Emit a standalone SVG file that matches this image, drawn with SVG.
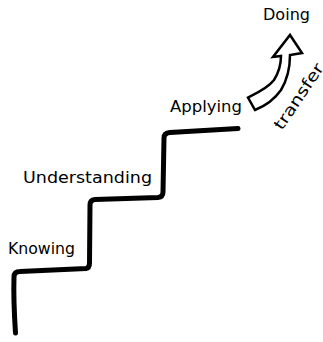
<svg xmlns="http://www.w3.org/2000/svg" width="323" height="342" viewBox="0 0 323 342">
<style>
.lbl{font-family:"DejaVu Sans","Liberation Sans",sans-serif;font-size:16px;fill:#000}
.stair{fill:none;stroke:#000;stroke-width:5;stroke-linecap:round;stroke-linejoin:round}
.arrow{fill:#fff;stroke:#000;stroke-width:2.5;stroke-linejoin:miter}
</style>
<rect width="323" height="342" fill="#fff"/>
<g id="connectors">
<path class="stair" d="M15.5,333 C14,310 13.5,292 14,277 Q14,271.5 20,271.5 L86,268.5 Q89.5,268 89.5,263 L90,205 Q90,200 95,199.5 L158,197.5 Q163,197 163,192 L164,138 Q164,133 170,132.5 L238,128.5"/>
<path class="arrow" d="M248,97.5 C257,93 268,88 274,80 C279,72 281,64 281,56 L273,57 L290,35 L302,53 L290,55 C290,68 287,80 281,90 C274,100 265,106 255,110 Z"/>
</g>
<g id="knowing"><text class="lbl" x="8" y="254" textLength="67" lengthAdjust="spacingAndGlyphs">Knowing</text></g>
<g id="understanding"><text class="lbl" x="23" y="183" textLength="129" lengthAdjust="spacingAndGlyphs">Understanding</text></g>
<g id="applying"><text class="lbl" x="170" y="112" textLength="72" lengthAdjust="spacingAndGlyphs">Applying</text></g>
<g id="doing"><text class="lbl" x="263" y="20" textLength="47" lengthAdjust="spacingAndGlyphs">Doing</text></g>
<g id="transfer"><text class="lbl" transform="translate(282,131) rotate(-56)" x="0" y="0" textLength="76" lengthAdjust="spacingAndGlyphs">transfer</text></g>
</svg>
